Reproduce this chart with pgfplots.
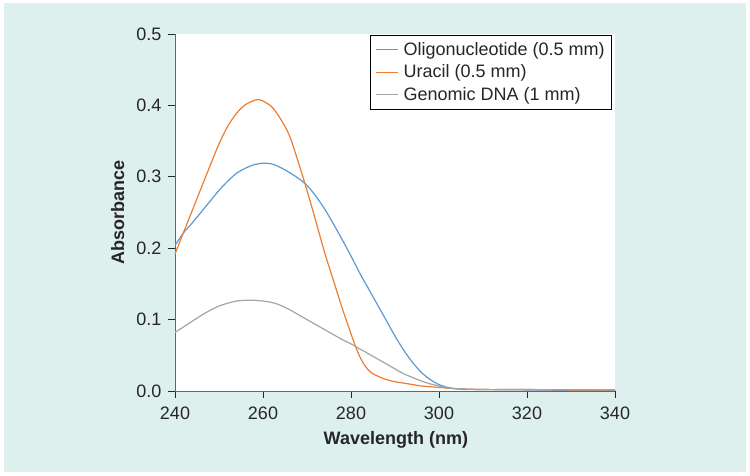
\documentclass[border=0pt]{standalone}
\usepackage{pgfplots}
\pgfplotsset{compat=1.18}
\usepackage{fontspec}
\setmainfont{Liberation Sans}
\definecolor{bgteal}{RGB}{221,240,238}
\definecolor{cblue}{RGB}{91,155,213}
\definecolor{corange}{RGB}{237,125,49}
\definecolor{cgray}{RGB}{165,165,165}
\begin{document}
\begin{tikzpicture}
\fill[white] (0pt,0pt) rectangle (750pt,476pt);
\fill[bgteal] (4pt,4pt) rectangle (746pt,473pt);
\begin{axis}[
  at={(175pt,85pt)}, anchor=south west,
  scale only axis, width=440pt, height=357pt,
  xmin=240, xmax=340, ymin=0, ymax=0.5,
  xtick={240,260,...,340},
  ytick={0,0.1,0.2,0.3,0.4,0.5},
  axis background/.style={fill=white},
  axis x line*=bottom, axis y line*=left,
  axis line style={-, black!60, line width=0.9pt},
  tick align=outside, major tick length=7pt,
  tick style={black!85, line width=0.8pt},
  /pgf/number format/assume math mode=true,
  yticklabel style={/pgf/number format/.cd, fixed, fixed zerofill, precision=1, /tikz/.cd, xshift=-3pt},
  xticklabel style={/pgf/number format/.cd, 1000 sep={}, /tikz/.cd, yshift=-5pt},
  tick label style={font=\fontsize{18}{21}\selectfont, text=black!85},
  xlabel={\textbf{Wavelength (nm)}},
  ylabel={\textbf{Absorbance}},
  label style={font=\fontsize{18}{21}\selectfont, text=black!85},
  xlabel style={at={(axis description cs:0.502,-0.137)}, anchor=center},
  ylabel style={at={(axis description cs:-0.13,0.501)}, anchor=center},
  legend style={at={(rel axis cs:0.993,0.997)}, anchor=north east,
    draw=black, line width=0.6pt, font=\fontsize{18}{21}\selectfont,
    text=black!85, inner xsep=5pt, inner ysep=5pt, row sep=4pt, column sep=3pt},
  legend cell align=left,
  legend image code/.code={\draw[#1, line width=1.1pt] (0pt,0pt) -- (22pt,0pt);},
]
\addplot[cblue, line width=1.2pt, smooth, tension=0.5] coordinates {
(240,0.204) (242,0.222) (244,0.236) (246,0.251) (248,0.266) (250,0.281)
(252,0.294) (254,0.305) (256,0.312) (258,0.317) (260,0.319) (262,0.318)
(264,0.313) (266,0.306) (268,0.298) (270,0.288) (272,0.273) (274,0.255)
(276,0.234) (278,0.212) (280,0.189) (282,0.165) (284,0.143) (286,0.121)
(288,0.099) (290,0.077) (292,0.057) (294,0.040) (296,0.026) (298,0.016)
(300,0.009) (302,0.005) (304,0.003) (306,0.002) (310,0.002) (320,0.0015)
(330,0.001) (340,0.001)};
\addlegendentry{Oligonucleotide (0.5 mm)}
\addplot[corange, line width=1.2pt, smooth, tension=0.5] coordinates {
(240,0.192) (242,0.223) (244,0.254) (246,0.285) (248,0.316) (250,0.346)
(252,0.371) (254,0.389) (256,0.401) (258,0.407) (259,0.408) (260,0.406)
(262,0.398) (264,0.381) (266,0.358) (268,0.321) (270,0.281) (272,0.238)
(274,0.194) (276,0.155) (278,0.116) (280,0.080) (281,0.063) (282,0.048)
(283,0.037) (284,0.029) (285,0.024) (286,0.021) (288,0.016) (290,0.013)
(292,0.011) (294,0.009) (296,0.007) (298,0.006) (300,0.005) (302,0.004)
(305,0.003) (310,0.002) (320,0.002) (330,0.0015) (340,0.0015)};
\addlegendentry{Uracil (0.5 mm)}
\addplot[cgray, line width=1.2pt, smooth, tension=0.5] coordinates {
(240,0.082) (242,0.090) (244,0.098) (246,0.106) (248,0.113) (250,0.119)
(252,0.123) (254,0.126) (256,0.127) (258,0.127) (260,0.126) (262,0.124)
(264,0.120) (266,0.114) (268,0.107) (270,0.100) (272,0.093) (274,0.086)
(276,0.079) (278,0.072) (280,0.066) (282,0.059) (284,0.052) (286,0.045)
(288,0.038) (290,0.031) (292,0.024) (294,0.019) (296,0.014) (298,0.010)
(300,0.007) (302,0.004) (305,0.003) (310,0.002) (320,0.002) (340,0.0015)};
\addlegendentry{Genomic DNA (1 mm)}
\end{axis}
\end{tikzpicture}
\end{document}
